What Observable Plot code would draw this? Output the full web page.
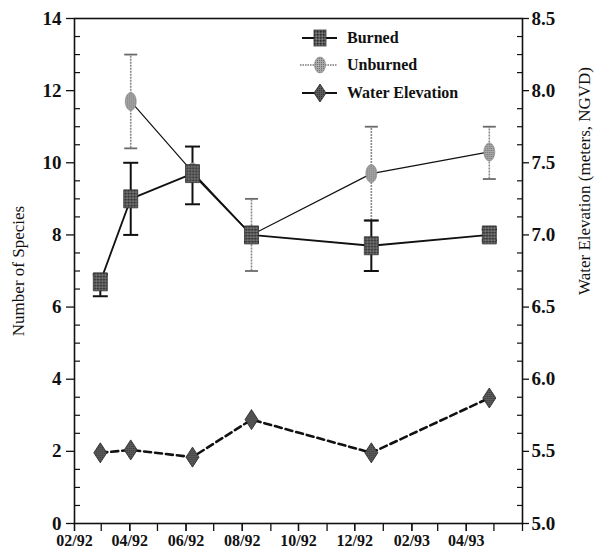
<!DOCTYPE html>
<html>
<head>
<meta charset="utf-8">
<script src="https://cdn.jsdelivr.net/npm/d3@7"></script>
<script src="https://cdn.jsdelivr.net/npm/@observablehq/plot@0.6"></script>
<style>
  html, body { margin: 0; padding: 0; background: #fff; }
  #wrap { position: relative; width: 594px; height: 557px; overflow: hidden; }
  #legend { position: absolute; left: 299px; top: 24px; font-family: "Liberation Serif", "Times New Roman", serif; font-weight: bold; font-size: 16px; color: #111; }
  #legend .row { display: flex; align-items: center; height: 27.5px; }
  #legend svg { margin-right: 8px; }
</style>
</head>
<body>
<svg width="0" height="0" style="position:absolute">
  <defs>
    <pattern id="burnedPat" width="3" height="3" patternUnits="userSpaceOnUse">
      <rect width="3" height="3" fill="#5a5a5a"/>
      <rect width="1.5" height="1.5" fill="#2a2a2a"/>
      <rect x="1.5" y="1.5" width="1.5" height="1.5" fill="#808080"/>
    </pattern>
    <pattern id="unburnedPat" width="2" height="2" patternUnits="userSpaceOnUse">
      <rect width="2" height="2" fill="#a8a8a8"/>
      <rect width="1" height="1" fill="#707070"/>
    </pattern>
    <pattern id="waterPat" width="2" height="2" patternUnits="userSpaceOnUse">
      <rect width="2" height="2" fill="#5c5c5c"/>
      <rect width="1" height="1" fill="#333"/>
    </pattern>
  </defs>
</svg>
<div id="wrap">
  <div id="chart"></div>
  <div id="legend"></div>
</div>
<script>
// ---- data ----
const sampleDates = ["1992-02-29", "1992-04-02", "1992-06-08", "1992-08-11", "1992-12-19", "1993-04-26"];
const burned       = [6.7, 9.0, 9.7, 8.0, 7.7, 8.0];
const burnedLow    = [6.3, 8.0, 8.85, 7.8, 7.0, 7.85];
const burnedHigh   = [6.9, 10.0, 10.45, 8.2, 8.4, 8.15];
const unburned     = [null, 11.7, 9.75, 8.0, 9.7, 10.3];
const unburnedLow  = [null, 10.4, 9.6, 7.0, 8.4, 9.55];
const unburnedHigh = [null, 13.0, 9.9, 9.0, 11.0, 11.0];
const waterElevation = [5.49, 5.51, 5.46, 5.72, 5.49, 5.87];
const xTickLabels = ["02/92", "04/92", "06/92", "08/92", "10/92", "12/92", "02/93", "04/93"];
const speciesTicks = [0, 2, 4, 6, 8, 10, 12, 14];
const elevTickLabels = ["5.0", "5.5", "6.0", "6.5", "7.0", "7.5", "8.0", "8.5"];
const xStart = "1992-02-01", xEnd = "1993-06-01";
const seriesNames = ["Burned", "Unburned", "Water Elevation"];
const yTitle = "Number of Species";
const y2Title = "Water Elevation (meters, NGVD)";

// elevation axis (5.0–8.5 m) shares the species scale (0–14)
const elevToY = e => (e - 5) * 4;

const parseLabel = s => new Date(Date.UTC(1900 + +s.slice(3), +s.slice(0, 2) - 1, 1));
const rows = sampleDates.map((d, i) => ({
  date: new Date(d),
  burned: burned[i], bLo: burnedLow[i], bHi: burnedHigh[i],
  unburned: unburned[i], uLo: unburnedLow[i], uHi: unburnedHigh[i],
  water: elevToY(waterElevation[i])
}));
const uRows = rows.filter(r => r.unburned != null);
const labelTicks = xTickLabels.map(parseLabel);
const labelMap = new Map(labelTicks.map((d, i) => [+d, xTickLabels[i]]));
const monthTicks = d3.utcMonth.range(new Date(xStart), d3.utcDay.offset(new Date(xEnd), 1));
const minorY = d3.range(0, 14.001, 0.5).filter(v => v % 2 !== 0);
const elevMap = new Map(elevTickLabels.map(s => [elevToY(+s), s]));

// ---- symbols ----
const rectSym = (w, h) => ({ draw(ctx) { ctx.moveTo(-w/2, -h/2); ctx.lineTo(w/2, -h/2); ctx.lineTo(w/2, h/2); ctx.lineTo(-w/2, h/2); ctx.closePath(); } });
const ellipseSym = (rx, ry) => ({ draw(ctx) {
  const k = 0.5523;
  ctx.moveTo(0, -ry);
  ctx.bezierCurveTo(k*rx, -ry, rx, -k*ry, rx, 0);
  ctx.bezierCurveTo(rx, k*ry, k*rx, ry, 0, ry);
  ctx.bezierCurveTo(-k*rx, ry, -rx, k*ry, -rx, 0);
  ctx.bezierCurveTo(-rx, -k*ry, -k*rx, -ry, 0, -ry);
  ctx.closePath();
}});
const diamondSym = (w, h) => ({ draw(ctx) { ctx.moveTo(0, -h/2); ctx.lineTo(w/2, 0); ctx.lineTo(0, h/2); ctx.lineTo(-w/2, 0); ctx.closePath(); } });
const capSym = (w) => ({ draw(ctx) { ctx.moveTo(-w/2, 0); ctx.lineTo(w/2, 0); } });

const font = `"Liberation Serif", "Times New Roman", serif`;

const chart = Plot.plot({
  width: 594,
  height: 557,
  marginLeft: 74,
  marginRight: 72,
  marginTop: 18,
  marginBottom: 34,
  style: { background: "#fff", fontFamily: font, color: "#111" },
  x: { type: "utc", domain: [new Date(xStart), new Date(xEnd)] },
  y: { domain: [0, 14] },
  marks: [
    // axes
    Plot.axisY({ anchor: "left", ticks: speciesTicks, tickSize: 8, tickPadding: 5, fontSize: 19, fontWeight: "bold", label: null, strokeWidth: 1.3 }),
    Plot.axisY({ anchor: "left", ticks: minorY, tickSize: -6, tickFormat: () => "", label: null, strokeWidth: 1.2 }),
    Plot.axisY({ anchor: "right", ticks: speciesTicks, tickSize: 6, tickPadding: 3, fontSize: 19, fontWeight: "bold", tickFormat: v => elevMap.get(v), label: null, strokeWidth: 1.3 }),
    Plot.axisY({ anchor: "right", ticks: minorY, tickSize: -6, tickFormat: () => "", label: null, strokeWidth: 1.2 }),
    Plot.axisX({ anchor: "bottom", ticks: monthTicks, tickSize: 8, tickFormat: () => "", label: null, strokeWidth: 1.3 }),
    Plot.axisX({ anchor: "bottom", ticks: labelTicks, tickSize: 8, tickPadding: 3, tickFormat: d => labelMap.get(+d), fontSize: 16, fontWeight: "bold", label: null, strokeWidth: 1.3 }),
    Plot.frame({ stroke: "#111", strokeWidth: 1.6 }),
    Plot.text([yTitle], { frameAnchor: "left", textAnchor: "middle", rotate: -90, dx: -56, fontSize: 17, fill: "#111" }),
    Plot.text([y2Title], { frameAnchor: "right", textAnchor: "middle", rotate: -90, dx: 62, dy: -90, fontSize: 17, fill: "#111" }),

    // water elevation
    Plot.line(rows, { x: "date", y: "water", stroke: "#111", strokeWidth: 2.6, strokeDasharray: "7,4" }),
    Plot.dot(rows, { x: "date", y: "water", symbol: diamondSym(13, 20), r: 8, fill: "url(#waterPat)", stroke: "#222", strokeWidth: 0.8 }),

    // error bars
    Plot.ruleX(uRows, { x: "date", y1: "uLo", y2: "uHi", stroke: "#8a8a8a", strokeWidth: 1.6, strokeDasharray: "2,1" }),
    Plot.dot(uRows, { x: "date", y: "uLo", symbol: capSym(13), r: 8, stroke: "#6a6a6a", strokeWidth: 1.8, fill: "none" }),
    Plot.dot(uRows, { x: "date", y: "uHi", symbol: capSym(13), r: 8, stroke: "#6a6a6a", strokeWidth: 1.8, fill: "none" }),
    Plot.ruleX(rows, { x: "date", y1: "bLo", y2: "bHi", stroke: "#111", strokeWidth: 2 }),
    Plot.dot(rows, { x: "date", y: "bLo", symbol: capSym(15), r: 8, stroke: "#111", strokeWidth: 2, fill: "none" }),
    Plot.dot(rows, { x: "date", y: "bHi", symbol: capSym(15), r: 8, stroke: "#111", strokeWidth: 2, fill: "none" }),

    // lines + markers
    Plot.line(uRows, { x: "date", y: "unburned", stroke: "#111", strokeWidth: 1.2 }),
    Plot.line(rows, { x: "date", y: "burned", stroke: "#111", strokeWidth: 1.8 }),
    Plot.dot(uRows, { x: "date", y: "unburned", symbol: ellipseSym(5.5, 9), r: 8, fill: "url(#unburnedPat)", stroke: "#888", strokeWidth: 0.6 }),
    Plot.dot(rows, { x: "date", y: "burned", symbol: rectSym(14, 18), r: 8, fill: "url(#burnedPat)", stroke: "#333", strokeWidth: 0.8 })
  ]
});
document.getElementById("chart").append(chart);

// ---- legend (HTML overlay) ----
const legendSpecs = [
  { name: seriesNames[0], line: `<line x1="3" y1="13" x2="38" y2="13" stroke="#111" stroke-width="1.8"/>`,
    mark: `<rect x="15" y="5" width="12" height="16" fill="url(#burnedPat)" stroke="#333" stroke-width="0.8"/>` },
  { name: seriesNames[1], line: `<line x1="1" y1="13" x2="38" y2="13" stroke="#777" stroke-width="1.3" stroke-dasharray="1.5,1"/>`,
    mark: `<ellipse cx="21" cy="13" rx="5.5" ry="8" fill="url(#unburnedPat)" stroke="#888" stroke-width="0.6"/>` },
  { name: seriesNames[2], line: `<line x1="3" y1="13" x2="38" y2="13" stroke="#111" stroke-width="1.8"/>`,
    mark: `<path d="M21,4 L27,13 L21,22 L15,13 Z" fill="url(#waterPat)" stroke="#222" stroke-width="0.8"/>` }
];
document.getElementById("legend").innerHTML = legendSpecs.map(s =>
  `<div class="row"><svg width="40" height="26">${s.line}${s.mark}</svg><span>${s.name}</span></div>`
).join("");
</script>
</body>
</html>
